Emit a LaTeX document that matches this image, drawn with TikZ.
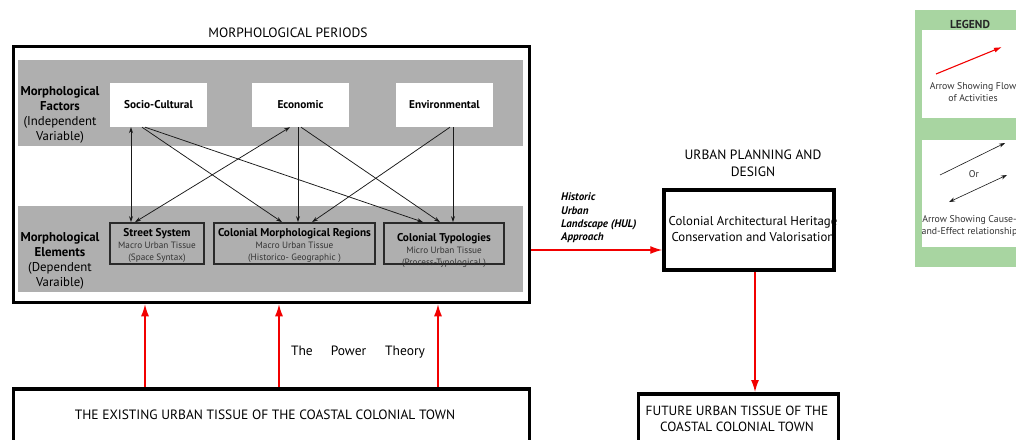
\documentclass[tikz,border=0pt]{standalone}
\usepackage{fontspec}
\setmainfont{PT Sans}
\usetikzlibrary{arrows.meta}
\definecolor{bandgray}{HTML}{AFAFAF}
\definecolor{legendgreen}{HTML}{A8D5A1}
\definecolor{flowred}{HTML}{F20000}
\definecolor{elemborder}{HTML}{2A2A2A}
\definecolor{smalltext}{HTML}{333333}
\newcommand{\eltitle}[1]{{\bfseries\fontsize{11.3}{12}\selectfont #1}}
\begin{document}
\begin{tikzpicture}[x=1pt,y=-1pt,
  thickbox/.style={draw=black, line width=3.5pt, fill=white, inner sep=0pt},
  band/.style={fill=bandgray, inner sep=0pt},
  factor/.style={fill=white, inner sep=0pt, font=\bfseries\fontsize{11.3}{12}\selectfont},
  element/.style={draw=elemborder, line width=1.8pt, inner sep=0pt},
  eltext/.style={align=center, inner sep=0pt, text=smalltext, font=\fontsize{9.2}{12}\selectfont},
  sidelabel/.style={align=center, inner sep=0pt, font=\fontsize{12.8}{14.8}\selectfont},
  caption/.style={align=center, inner sep=0pt, font=\fontsize{13.5}{17}\selectfont},
  cause/.style={-{Stealth[length=6pt,width=4pt]}, line width=0.75pt, black!90},
  causeboth/.style={{Stealth[length=6pt,width=4pt]}-{Stealth[length=6pt,width=4pt]}, line width=0.75pt, black!90},
  flow/.style={-{Latex[length=12pt,width=8pt]}, line width=1.3pt, flowred},
  legendbox/.style={fill=white, inner sep=0pt},
  legendtext/.style={align=center, inner sep=0pt, text=smalltext, font=\fontsize{9.8}{12}\selectfont}
]
\clip (0,0) rectangle (1016,439);
\fill[white] (0,0) rectangle (1016,439);

% ---------- Morphological periods ----------
\node[caption] (periods) at (288,33) {MORPHOLOGICAL PERIODS};
\node[thickbox, minimum width=516pt, minimum height=256pt] (outer) at (271.5,174.5) {};
\node[band, minimum width=505pt, minimum height=86pt] (bandtop) at (270.5,103) {};
\node[band, minimum width=505pt, minimum height=86pt] (bandbot) at (270.5,249) {};

\node[sidelabel] (factorslabel) at (60,115)
  {\textbf{Morphological}\\\textbf{Factors}\\(Independent\\Variable)};
\node[sidelabel] (elementslabel) at (60,261)
  {\textbf{Morphological}\\\textbf{Elements}\\(Dependent\\Varaible)};

\node[factor, minimum width=97pt, minimum height=44pt] (socio) at (158.5,105) {Socio-Cultural};
\node[factor, minimum width=97pt, minimum height=44pt] (econ) at (300.5,105) {Economic};
\node[factor, minimum width=97pt, minimum height=44pt] (env) at (444.5,105) {Environmental};

\node[element, minimum width=94pt, minimum height=41pt] (street) at (157,243.5) {};
\node[element, minimum width=161pt, minimum height=41pt] (regions) at (294.5,243.5) {};
\node[element, minimum width=120pt, minimum height=41pt] (typol) at (444,243.5) {};

\node[eltext] (streettxt) at (157,245)
  {\textcolor{black}{\eltitle{Street System}}\\Macro Urban Tissue\\(Space Syntax)};
\node[eltext] (regionstxt) at (294.5,245)
  {\textcolor{black}{\eltitle{Colonial Morphological Regions}}\\Macro Urban Tissue\\(Historico- Geographic )};
\node[eltext] (typoltxt) at (444,250)
  {\textcolor{black}{\eltitle{Colonial Typologies}}\\Micro Urban Tissue\\(Process-Typological )};

% cause-effect arrows
\draw[causeboth] (131,0 |- socio.south) -- (131,0 |- street.north);
\draw[cause] (142,0 |- socio.south) -- (282,0 |- regions.north);
\draw[cause] (145,0 |- socio.south) -- (423,0 |- typol.north);
\draw[causeboth] (135,0 |- street.north) -- (290,0 |- econ.south);
\draw[cause] (298,0 |- econ.south) -- (298,0 |- regions.north);
\draw[cause] (301,0 |- econ.south) -- (440,0 |- typol.north);
\draw[cause] (450,0 |- env.south) -- (312,0 |- regions.north);
\draw[cause] (453,0 |- env.south) -- (453,0 |- typol.north);

% ---------- Existing tissue ----------
\node[thickbox, minimum width=516pt, minimum height=80pt] (existing) at (271.5,428.75) {};
\node[caption] (existingtxt) at (265,415) {THE EXISTING URBAN TISSUE OF THE COASTAL COLONIAL TOWN};
\draw[flow] (145,0 |- existing.north) -- (145,0 |- outer.south);
\draw[flow] (279,0 |- existing.north) -- (279,0 |- outer.south);
\draw[flow] (438,0 |- existing.north) -- (438,0 |- outer.south);
\node[inner sep=0pt, font=\fontsize{13.5}{15}\selectfont] (power) at (358,352)
  {The\hspace{18pt}Power\hspace{19pt}Theory};

% ---------- Urban planning ----------
\node[caption] (planning) at (753,163.5) {URBAN PLANNING AND\\DESIGN};
\node[thickbox, minimum width=170pt, minimum height=80pt] (colarch) at (749,230) {};
\node[align=center, inner sep=0pt, font=\fontsize{12.8}{16}\selectfont] (colarchtxt) at (753,229)
  {Colonial Architectural Heritage\\Conservation and Valorisation};
\node[align=left, anchor=west, inner sep=0pt, font=\bfseries\itshape\fontsize{11}{13.3}\selectfont] (hul) at (561,218)
  {Historic\\Urban\\Landscape (HUL)\\Approach};
\draw[flow] (outer.east |- 0,250) -- (colarch.west |- 0,250);

\node[thickbox, minimum width=200pt, minimum height=80pt] (future) at (738.5,433.75) {};
\node[align=center, inner sep=0pt, font=\fontsize{13.3}{16}\selectfont] (futuretxt) at (737,419)
  {FUTURE URBAN TISSUE OF THE\\COASTAL COLONIAL TOWN};
\draw[flow] (755,0 |- colarch.south) -- (755,0 |- future.north);

% ---------- Legend ----------
\node[fill=legendgreen, inner sep=0pt, minimum width=115pt, minimum height=257pt] (legend) at (972.5,138.5) {};
\node[inner sep=0pt, font=\bfseries\fontsize{11.5}{12}\selectfont, text=black!85] (legendtitle) at (970,24) {LEGEND};
\node[legendbox, minimum width=108pt, minimum height=88pt] (legendone) at (976,74) {};
\node[legendbox, minimum width=108pt, minimum height=107pt] (legendtwo) at (976,193.5) {};
\coordinate (redA) at (936,74);
\coordinate (redB) at (1002,47);
\draw[flowred, line width=1.1pt, -{Latex[length=8pt,width=5pt]}] (redA) -- (redB);
\node[legendtext] (legendonetxt) at (973,92) {Arrow Showing Flow\\of Activities};
\coordinate (oneA) at (940,175);
\coordinate (oneB) at (1005,143);
\coordinate (twoA) at (949,202);
\coordinate (twoB) at (1007,175);
\draw[cause, line width=0.6pt] (oneA) -- (oneB);
\draw[causeboth, line width=0.6pt] (twoA) -- (twoB);
\node[legendtext] (ortxt) at (974,174) {Or};
\node[legendtext] (legendtwotxt) at (969.5,226) {Arrow Showing Cause-\\and-Effect relationship};
\end{tikzpicture}
\end{document}
